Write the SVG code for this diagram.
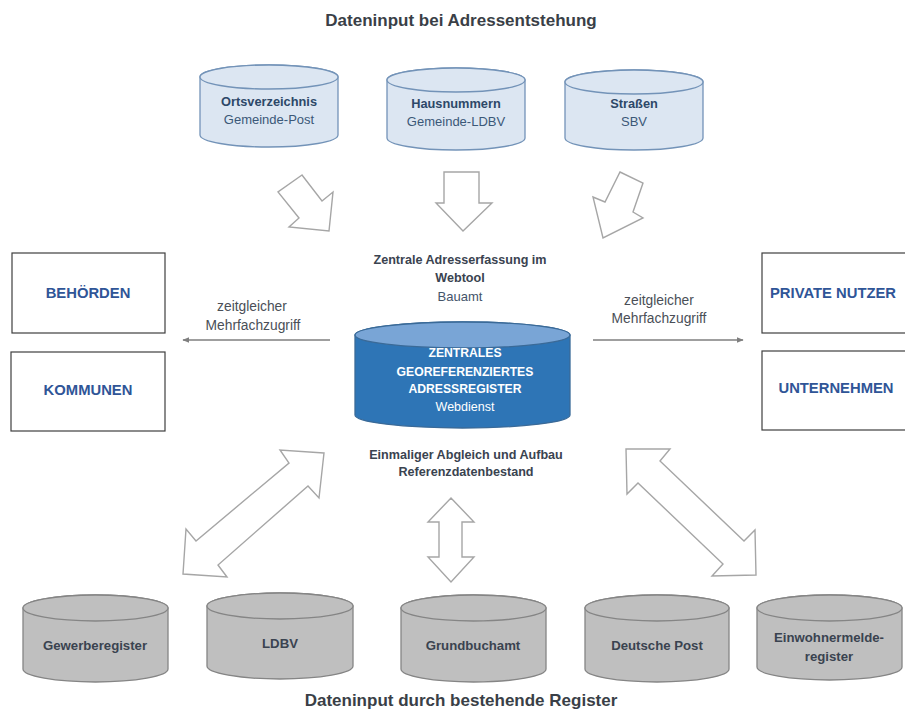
<svg xmlns="http://www.w3.org/2000/svg" width="905" height="711" viewBox="0 0 905 711">
<defs>
<style>
text{font-family:"Liberation Sans",Arial,sans-serif;text-anchor:middle}
.title{font-size:17px;font-weight:bold;fill:#3a3f47}
.cylB{fill:#dce6f2;stroke:#7393b8;stroke-width:1.3}
.cylG{fill:#bfbfbf;stroke:#858585;stroke-width:1.3}
.cylC{fill:#2e75b6;stroke:#3a6a98;stroke-width:1.3}
.cylCtop{fill:#79a5d6;stroke:#3a6a98;stroke-width:1.3}
.tb{font-size:12.8px;font-weight:bold;fill:#2d4868}
.tr{font-size:13px;fill:#3b5878}
.lab{font-size:12.6px;font-weight:bold;fill:#3a4350}
.sub{font-size:13px;fill:#44546a}
.note{font-size:13.8px;fill:#4a4f57}
.box{fill:#fff;stroke:#3f3f3f;stroke-width:1.2}
.boxt{font-size:14.8px;font-weight:bold;fill:#2f5597}
.ct{font-size:12.2px;font-weight:bold;fill:#fff}
.ctr{font-size:12.5px;fill:#fff}
.gl{font-size:13.2px;font-weight:bold;fill:#3a4350}
.blk{fill:#fff;stroke:#a6a6a6;stroke-width:1.4;stroke-linejoin:miter}
.ln{stroke:#7f7f7f;stroke-width:1.4;fill:none}
</style>
<marker id="ah" viewBox="0 0 10 10" refX="9" refY="5" markerWidth="7" markerHeight="7" orient="auto" markerUnits="userSpaceOnUse">
<path d="M0,1 L10,5 L0,9 Z" fill="#7f7f7f"/>
</marker>
</defs>
<rect width="905" height="711" fill="#fff"/>

<text class="title" x="461" y="26">Dateninput bei Adressentstehung</text>

<g id="ortsverzeichnis">
<path class="cylB" d="M200,77 V135 A69,12 0 0 0 338,135 V77 A69,12 0 0 0 200,77 Z"/>
<ellipse class="cylB" cx="269" cy="77" rx="69" ry="12"/>
<text class="tb" x="269" y="106">Ortsverzeichnis</text>
<text class="tr" x="269" y="124">Gemeinde-Post</text>
</g>
<g id="hausnummern">
<path class="cylB" d="M387,80 V138 A69,12 0 0 0 525,138 V80 A69,12 0 0 0 387,80 Z"/>
<ellipse class="cylB" cx="456" cy="80" rx="69" ry="12"/>
<text class="tb" x="456" y="108">Hausnummern</text>
<text class="tr" x="456" y="126">Gemeinde-LDBV</text>
</g>
<g id="strassen">
<path class="cylB" d="M565,82 V138 A69,12 0 0 0 703,138 V82 A69,12 0 0 0 565,82 Z"/>
<ellipse class="cylB" cx="634" cy="82" rx="69" ry="12"/>
<text class="tb" x="634" y="108">Straßen</text>
<text class="tr" x="634" y="126">SBV</text>
</g>

<g id="connectors">
<path class="blk" d="M302,175 L278,192 L299,218 L289,227 L329,231 L333,192 L322,201 Z"/>
<path class="blk" d="M444,172 L479,172 L479,203 L492,203 L463,231 L436,203 L444,203 Z"/>
<path class="blk" d="M620,172 L643,183 L633,212 L643,218 L603,238 L593,197 L605,202 Z"/>
<line class="ln" x1="330" y1="340" x2="183" y2="340" marker-end="url(#ah)"/>
<line class="ln" x1="593" y1="340" x2="743" y2="340" marker-end="url(#ah)"/>
<path class="blk" d="M324,453 L280,450 L289,463 L196,541 L186,529 L183,574 L227,577 L218,565 L308,486 L319,498 Z"/>
<path class="blk" d="M451,498 L474,522 L462,522 L462,557 L474,557 L451,582 L428,557 L439,557 L439,522 L428,522 Z"/>
<path class="blk" d="M626,449 L670,449 L660,461 L744,541 L755,530 L756,575 L712,576 L723,564 L638,483 L627,494 Z"/>
</g>

<g id="webtool">
<text class="lab" x="460" y="264">Zentrale Adresserfassung im</text>
<text class="lab" x="460" y="282">Webtool</text>
<text class="sub" x="460" y="301">Bauamt</text>
</g>

<g id="zugriff-links">
<text class="note" x="252" y="311">zeitgleicher</text>
<text class="note" x="253" y="330">Mehrfachzugriff</text>
</g>
<g id="zugriff-rechts">
<text class="note" x="659" y="305">zeitgleicher</text>
<text class="note" x="659" y="323">Mehrfachzugriff</text>
</g>

<g id="behoerden">
<rect class="box" x="12" y="253" width="153" height="80"/>
<text class="boxt" x="88" y="298">BEHÖRDEN</text>
</g>
<g id="kommunen">
<rect class="box" x="11" y="352" width="154" height="79"/>
<text class="boxt" x="88" y="395">KOMMUNEN</text>
</g>
<g id="private-nutzer">
<rect class="box" x="762" y="253" width="145" height="80"/>
<text class="boxt" x="833" y="298">PRIVATE NUTZER</text>
</g>
<g id="unternehmen">
<rect class="box" x="762" y="351" width="145" height="79"/>
<text class="boxt" x="836" y="393">UNTERNEHMEN</text>
</g>

<g id="adressregister">
<path class="cylC" d="M355,335 V415 A107.5,13 0 0 0 570,415 V335 A107.5,13 0 0 0 355,335 Z"/>
<ellipse class="cylCtop" cx="462.5" cy="335" rx="107.5" ry="13"/>
<text class="ct" x="465" y="357">ZENTRALES</text>
<text class="ct" x="465" y="376">GEOREFERENZIERTES</text>
<text class="ct" x="465" y="393">ADRESSREGISTER</text>
<text class="ctr" x="465" y="411">Webdienst</text>
</g>

<g id="abgleich">
<text class="lab" x="466" y="459">Einmaliger Abgleich und Aufbau</text>
<text class="lab" x="466" y="476">Referenzdatenbestand</text>
</g>

<g id="gewerberegister">
<path class="cylG" d="M23,608 V669 A72.5,13 0 0 0 168,669 V608 A72.5,13 0 0 0 23,608 Z"/>
<ellipse class="cylG" cx="95.5" cy="608" rx="72.5" ry="13"/>
<text class="gl" x="95" y="649.5">Gewerberegister</text>
</g>
<g id="ldbv">
<path class="cylG" d="M207,606 V666 A73,13 0 0 0 353,666 V606 A73,13 0 0 0 207,606 Z"/>
<ellipse class="cylG" cx="280" cy="606" rx="73" ry="13"/>
<text class="gl" x="280" y="647.5">LDBV</text>
</g>
<g id="grundbuchamt">
<path class="cylG" d="M401,608 V669 A72.5,13 0 0 0 546,669 V608 A72.5,13 0 0 0 401,608 Z"/>
<ellipse class="cylG" cx="473.5" cy="608" rx="72.5" ry="13"/>
<text class="gl" x="473" y="649.5">Grundbuchamt</text>
</g>
<g id="deutsche-post">
<path class="cylG" d="M585,608 V669 A72,13 0 0 0 729,669 V608 A72,13 0 0 0 585,608 Z"/>
<ellipse class="cylG" cx="657" cy="608" rx="72" ry="13"/>
<text class="gl" x="657" y="649.5">Deutsche Post</text>
</g>
<g id="einwohnermelderegister">
<path class="cylG" d="M757,608 V667 A72.5,13 0 0 0 902,667 V608 A72.5,13 0 0 0 757,608 Z"/>
<ellipse class="cylG" cx="829.5" cy="608" rx="72.5" ry="13"/>
<text class="gl" x="829" y="641.5">Einwohnermelde-</text>
<text class="gl" x="829" y="660.5">register</text>
</g>

<text class="title" x="461" y="706">Dateninput durch bestehende Register</text>
</svg>
